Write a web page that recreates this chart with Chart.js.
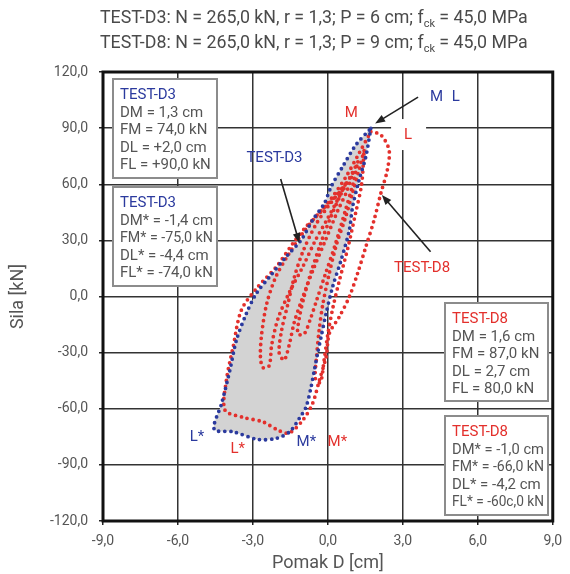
<!DOCTYPE html>
<html>
<head>
<meta charset="utf-8">
<script src="https://cdn.jsdelivr.net/npm/chart.js@4.4.1/dist/chart.umd.min.js"></script>
<style>
html, body { margin: 0; padding: 0; background: #fff; }
</style>
</head>
<body>
<canvas id="hystChart" width="570" height="574"></canvas>
<script>
// axis ticks
var xTicks = [-9, -6, -3, 0, 3, 6, 9];
var yTicks = [-120, -90, -60, -30, 0, 30, 60, 90, 120];

// TEST-D3 envelope (cm, kN)
var d3X = [1.72, 1.52, 1.25, 0.99, 0.86, 0.53, 0.19, -0.07, -0.27, -0.41, -0.54, -0.67, -0.87, -1.14, -1.53, -2.06, -2.80, -3.79, -4.55, -4.25, -3.92, -3.66, -3.26, -2.86, -2.33, -1.67, -1.07, -0.61, -0.14, 0.13, 0.59, 1.12, 1.72];
var d3Y = [89.9, 74.8, 62.3, 48.0, 35.6, 19.5, 5.2, -9.0, -21.5, -30.4, -39.3, -48.2, -58.9, -65.1, -72.3, -75.8, -76.4, -72.3, -71.0, -57.1, -39.3, -23.3, -9.0, 1.7, 10.6, 21.3, 30.2, 40.9, 49.8, 58.7, 69.4, 81.0, 89.9];

// TEST-D8 outer loop
var d8OuterX = [1.72, 2.12, 2.45, 2.38, 2.12, 1.85, 1.52, 1.19, 0.86, 0.46, 0.06, -0.07, -0.34, -0.61, -1.00, -1.55, -2.00, -2.60, -3.39, -4.12, -4.06, -3.79, -3.46, -2.80, -2.06, -1.40, -0.87, -0.34, 0.19, 0.73, 1.25, 1.72];
var d8OuterY = [88.1, 86.4, 78.3, 67.6, 55.2, 40.9, 26.6, 12.4, -0.1, -10.8, -19.7, -32.2, -44.7, -57.1, -66.0, -73.0, -71.4, -67.0, -64.6, -60.7, -44.7, -26.8, -7.2, 5.2, 15.9, 28.4, 37.3, 44.5, 53.4, 64.1, 76.6, 88.1];

// TEST-D8 inner loops
var d8Loop1X = [0.7, 0.2, -0.4, -1.0, -1.6, -2.1, -2.45, -2.65, -2.7, -2.6, -2.35, -2.25, -2.0, -1.55, -1.0, -0.5, 0.0, 0.4, 0.7];
var d8Loop1Y = [60, 52, 44, 34, 22, 10, -4, -20, -32, -38, -37, -26, -12, 2, 16, 30, 42, 52, 60];
var d8Loop2X = [1.0, 0.6, 0.0, -0.5, -1.0, -1.35, -1.6, -1.85, -1.95, -1.75, -1.55, -1.35, -1.05, -0.6, -0.1, 0.4, 0.75, 1.0];
var d8Loop2Y = [66, 58, 48, 38, 24, 10, -4, -18, -30, -34, -26, -14, -2, 14, 30, 46, 56, 66];
var d8Loop3X = [1.2, 0.9, 0.5, 0.1, -0.3, -0.65, -0.95, -1.15, -1.2, -0.95, -0.7, -0.45, -0.1, 0.3, 0.7, 1.0, 1.2];
var d8Loop3Y = [72, 64, 54, 42, 28, 14, 0, -12, -20, -20, -12, -2, 12, 28, 46, 60, 72];
var d8Loop4X = [1.45, 1.25, 1.0, 0.7, 0.35, 0.05, -0.2, -0.35, -0.45, -0.5, -0.3, -0.15, 0.0, 0.2, 0.45, 0.8, 1.1, 1.35, 1.45];
var d8Loop4Y = [78, 68, 56, 42, 28, 12, -4, -18, -32, -44, -46, -34, -20, -6, 8, 26, 44, 60, 78];

var BLUE = '#2b3a9e';
var RED = '#e3302c';
var TXT = '#555555';
var FONT = 'Roboto';

function pts(xs, ys) {
    return xs.map(function(x, i) { return {x: x, y: ys[i]}; });
}

function dotted(label, xs, ys, color) {
    return {
        label: label,
        data: pts(xs, ys),
        showLine: true,
        fill: false,
        borderColor: color,
        borderWidth: 3.8,
        borderDash: [0, 6],
        borderCapStyle: 'round',
        tension: 0.3,
        pointRadius: 0,
        pointHoverRadius: 0
    };
}

// text boxes, anchored at their top-left corner in data units
var boxes = [
    {x: -8.6, y: 116.2, w: 104, h: 99, color: BLUE, lines: ['TEST-D3', 'DM = 1,3 cm', 'FM = 74,0 kN', 'DL = +2,0 cm', 'FL = +90,0 kN']},
    {x: -8.6, y: 58.7, w: 104, h: 99, color: BLUE, lines: ['TEST-D3', 'DM* = -1,4 cm', 'FM* = -75,0 kN', 'DL* = -4,4 cm', 'FL* = -74,0 kN']},
    {x: 4.68, y: -3.3, w: 103, h: 98, color: RED, lines: ['TEST-D8', 'DM = 1,6 cm', 'FM = 87,0 kN', 'DL = 2,7 cm', 'FL = 80,0 kN']},
    {x: 4.68, y: -63.9, w: 103, h: 99, color: RED, lines: ['TEST-D8', 'DM* = -1,0 cm', 'FM* = -66,0 kN', 'DL* = -4,2 cm', 'FL* = -60c,0 kN']}
];

var labels = [
    {text: 'TEST-D3', x: -3.26, y: 74.0, color: BLUE, align: 'left'},
    {text: 'TEST-D8', x: 2.65, y: 15.2, color: RED, align: 'left'},
    {text: 'M', x: 4.09, y: 106.6, color: BLUE, align: 'left'},
    {text: 'L', x: 4.96, y: 106.6, color: BLUE, align: 'left'},
    {text: 'M', x: 0.94, y: 98.1, color: RED, align: 'center'},
    {text: 'L', x: 3.21, y: 86.3, color: RED, align: 'center', bg: true},
    {text: 'L*', x: -5.24, y: -75.1, color: BLUE, align: 'center'},
    {text: 'L*', x: -3.61, y: -81.5, color: RED, align: 'center'},
    {text: 'M*', x: -0.86, y: -77.8, color: BLUE, align: 'center'},
    {text: 'M*', x: 0.38, y: -77.8, color: RED, align: 'center'}
];

var arrows = [
    {x1: -1.89, y1: 62.8, x2: -1.14, y2: 28.6},
    {x1: 4.11, y1: 23.9, x2: 2.16, y2: 54.3},
    {x1: 3.61, y1: 106.6, x2: 1.89, y2: 92.5}
];

function drawArrow(ctx, x1, y1, x2, y2) {
    var a = Math.atan2(y2 - y1, x2 - x1);
    ctx.beginPath();
    ctx.moveTo(x1, y1);
    ctx.lineTo(x2 - 6 * Math.cos(a), y2 - 6 * Math.sin(a));
    ctx.stroke();
    ctx.beginPath();
    ctx.moveTo(x2, y2);
    ctx.lineTo(x2 - 10 * Math.cos(a) + 3.8 * Math.sin(a), y2 - 10 * Math.sin(a) - 3.8 * Math.cos(a));
    ctx.lineTo(x2 - 10 * Math.cos(a) - 3.8 * Math.sin(a), y2 - 10 * Math.sin(a) + 3.8 * Math.cos(a));
    ctx.closePath();
    ctx.fill();
}

function drawTitleLine(ctx, x, y, head, tail) {
    ctx.font = '17.8px ' + FONT;
    ctx.fillText(head, x, y);
    x += ctx.measureText(head).width;
    ctx.font = '11px ' + FONT;
    ctx.fillText('ck', x, y + 4);
    x += ctx.measureText('ck').width;
    ctx.font = '17.8px ' + FONT;
    ctx.fillText(tail, x, y);
}

var extras = {
    id: 'extras',
    beforeDatasetsDraw: function(chart) {
        // grey area inside the TEST-D3 envelope
        var ctx = chart.ctx;
        var area = chart.chartArea;
        var p = chart.getDatasetMeta(0).data;
        ctx.save();
        ctx.beginPath();
        ctx.rect(area.left, area.top, area.right - area.left, area.bottom - area.top);
        ctx.clip();
        ctx.beginPath();
        ctx.moveTo(p[0].x, p[0].y);
        for (var i = 1; i < p.length; i++) {
            ctx.bezierCurveTo(p[i - 1].cp2x, p[i - 1].cp2y, p[i].cp1x, p[i].cp1y, p[i].x, p[i].y);
        }
        ctx.closePath();
        ctx.fillStyle = '#d3d3d3';
        ctx.fill();
        ctx.restore();
    },
    afterDraw: function(chart) {
        var ctx = chart.ctx;
        var area = chart.chartArea;
        var sx = chart.scales.x, sy = chart.scales.y;
        ctx.save();

        // frame
        ctx.strokeStyle = '#111';
        ctx.lineWidth = 3;
        ctx.strokeRect(area.left, area.top, area.right - area.left, area.bottom - area.top);

        // arrows
        ctx.strokeStyle = '#222';
        ctx.fillStyle = '#222';
        ctx.lineWidth = 1.6;
        arrows.forEach(function(a) {
            drawArrow(ctx, sx.getPixelForValue(a.x1), sy.getPixelForValue(a.y1),
                sx.getPixelForValue(a.x2), sy.getPixelForValue(a.y2));
        });

        // labels
        ctx.font = '15px ' + FONT;
        ctx.textBaseline = 'middle';
        labels.forEach(function(l) {
            var px = sx.getPixelForValue(l.x), py = sy.getPixelForValue(l.y);
            if (l.bg) {
                ctx.fillStyle = '#fff';
                ctx.fillRect(px - 17, py - 16, 35, 31);
            }
            ctx.textAlign = l.align;
            ctx.fillStyle = l.color;
            ctx.fillText(l.text, px, py);
        });

        // boxes
        ctx.textAlign = 'left';
        ctx.textBaseline = 'alphabetic';
        boxes.forEach(function(b) {
            var bx = Math.round(sx.getPixelForValue(b.x)), by = Math.round(sy.getPixelForValue(b.y));
            ctx.fillStyle = '#fff';
            ctx.fillRect(bx, by, b.w, b.h);
            ctx.strokeStyle = '#8c8c8c';
            ctx.lineWidth = 2;
            ctx.strokeRect(bx, by, b.w, b.h);
            b.lines.forEach(function(t, i) {
                ctx.fillStyle = i === 0 ? b.color : TXT;
                ctx.font = '15px ' + FONT;
                ctx.fillText(t, bx + 7, by + 20 + i * 17.6, b.w - 11);
            });
        });

        // title
        ctx.fillStyle = '#4a4a4a';
        ctx.textBaseline = 'alphabetic';
        drawTitleLine(ctx, 100, 23, 'TEST-D3: N = 265,0 kN, r = 1,3; P = 6 cm; f', ' = 45,0 MPa');
        drawTitleLine(ctx, 100, 48, 'TEST-D8: N = 265,0 kN, r = 1,3; P = 9 cm; f', ' = 45,0 MPa');
        ctx.restore();
    }
};

function fmt(v) {
    return v.toFixed(1).replace('.', ',');
}

var ctx = document.getElementById('hystChart').getContext('2d');
var hystChart = new Chart(ctx, {
    type: 'scatter',
    data: {
        datasets: [
            dotted('TEST-D3', d3X, d3Y, BLUE),
            dotted('TEST-D8', d8OuterX, d8OuterY, RED),
            dotted('TEST-D8 a', d8Loop1X, d8Loop1Y, RED),
            dotted('TEST-D8 b', d8Loop2X, d8Loop2Y, RED),
            dotted('TEST-D8 c', d8Loop3X, d8Loop3Y, RED),
            dotted('TEST-D8 d', d8Loop4X, d8Loop4Y, RED)
        ]
    },
    options: {
        responsive: false,
        animation: false,
        devicePixelRatio: 1,
        layout: {
            padding: {top: 72, right: 15, left: 0, bottom: 0}
        },
        plugins: {
            legend: {display: false},
            tooltip: {enabled: false}
        },
        scales: {
            x: {
                type: 'linear',
                min: -9,
                max: 9,
                afterBuildTicks: function(scale) {
                    scale.ticks = xTicks.map(function(v) { return {value: v}; });
                },
                afterFit: function(scale) { scale.height = 53; },
                grid: {color: '#333', lineWidth: 1.5, tickLength: 4, tickColor: '#222'},
                border: {display: false},
                ticks: {
                    color: TXT,
                    padding: 8,
                    font: {family: FONT, size: 14},
                    maxRotation: 0,
                    callback: fmt
                },
                title: {
                    display: true,
                    text: 'Pomak D [cm]',
                    color: TXT,
                    font: {family: FONT, size: 18},
                    padding: {top: 0, bottom: 0}
                }
            },
            y: {
                type: 'linear',
                min: -120,
                max: 120,
                afterBuildTicks: function(scale) {
                    scale.ticks = yTicks.map(function(v) { return {value: v}; });
                },
                afterFit: function(scale) { scale.width = 103; },
                grid: {color: '#333', lineWidth: 1.5, tickLength: 4, tickColor: '#222'},
                border: {display: false},
                ticks: {
                    color: TXT,
                    padding: 11,
                    font: {family: FONT, size: 14},
                    callback: fmt
                },
                title: {
                    display: true,
                    text: 'Sila [kN]',
                    color: TXT,
                    font: {family: FONT, size: 18},
                    padding: {top: 8, bottom: 0}
                }
            }
        }
    },
    plugins: [extras]
});
</script>
</body>
</html>
